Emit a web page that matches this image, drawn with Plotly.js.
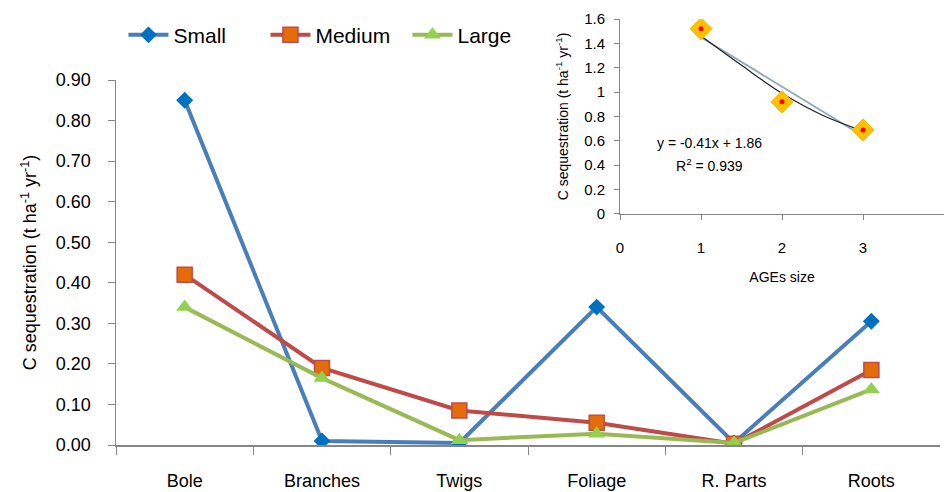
<!DOCTYPE html>
<html>
<head>
<meta charset="utf-8">
<script src="https://cdn.plot.ly/plotly-3.0.1.min.js"></script>
<style>html,body{margin:0;padding:0;background:#fff;}#chart{width:944px;height:492px;}</style>
</head>
<body>
<div id="chart"></div>
<script>
// Main chart data
const categories = ["Bole", "Branches", "Twigs", "Foliage", "R. Parts", "Roots"];
const smallVals  = [0.85, 0.010, 0.005, 0.340, 0.005, 0.305];
const mediumVals = [0.42, 0.190, 0.085, 0.055, 0.003, 0.185];
const largeVals  = [0.34, 0.165, 0.012, 0.028, 0.005, 0.137];

// Inset data
const ageSize = [1, 2, 3];
const ageTotals = [1.52, 0.92, 0.69];
const curveX = [1, 1.5, 2, 2.5, 3];
const curveY = [1.46, 1.22, 0.99, 0.81, 0.68];
const linX = [1, 3];
const linY = [1.45, 0.64];
const eqText = "y = -0.41x + 1.86";
const r2Text = "R<sup>2</sup> = 0.939";

const FONT = "Liberation Sans, Arial, sans-serif";
const axisGray = "#868686";

const traces = [
  {x: categories, y: smallVals, name: "Small", type: "scatter", mode: "lines+markers",
   line: {color: "#4A7EBB", width: 4}, marker: {symbol: "diamond", size: 13, color: "#0070C0"},
   xaxis: "x", yaxis: "y"},
  {x: categories, y: mediumVals, name: "Medium", type: "scatter", mode: "lines+markers",
   line: {color: "#BE4B48", width: 4}, marker: {symbol: "square", size: 15, color: "#E46C0A", line: {color: "#BE4B48", width: 1.5}},
   xaxis: "x", yaxis: "y"},
  {x: categories, y: largeVals, name: "Large", type: "scatter", mode: "lines+markers",
   line: {color: "#98B954", width: 4}, marker: {symbol: "triangle-up", size: 15, color: "#92D050"},
   xaxis: "x", yaxis: "y"},
  // inset
  {x: linX, y: linY, type: "scatter", mode: "lines", showlegend: false,
   line: {color: "#8EA9B8", width: 1.8}, xaxis: "x2", yaxis: "y2", hoverinfo: "skip"},
  {x: curveX, y: curveY, type: "scatter", mode: "lines", showlegend: false, line: {shape: "spline", color: "#222222", width: 1.2},
   xaxis: "x2", yaxis: "y2", hoverinfo: "skip"},
  {x: ageSize, y: ageTotals, type: "scatter", mode: "markers", showlegend: false,
   marker: {symbol: "diamond", size: 17, color: "#FFC000", line: {color: "#F5B800", width: 1}}, xaxis: "x2", yaxis: "y2"},
  {x: ageSize, y: ageTotals, type: "scatter", mode: "markers", showlegend: false,
   marker: {symbol: "circle", size: 5, color: "#FF0000"}, xaxis: "x2", yaxis: "y2"}
];

const layout = {
  width: 944, height: 492,
  margin: {l: 116, r: 0, t: 19, b: 47},
  paper_bgcolor: "#fff", plot_bgcolor: "rgba(0,0,0,0)",
  font: {family: FONT, color: "#000", size: 18},
  showlegend: true,
  legend: {orientation: "h", x: 0.009, xanchor: "left", y: 0.962, yanchor: "middle",
           font: {size: 21, family: FONT}, bgcolor: "rgba(0,0,0,0)", itemwidth: 40, tracegroupgap: 0,
           entrywidth: 87},
  xaxis: {domain: [0, 0.9952], type: "category", range: [-0.5, 5.5], showgrid: false, zeroline: false,
          showline: true, linecolor: axisGray, linewidth: 1.5, ticks: "outside", tickson: "boundaries",
          ticklen: 8, tickcolor: axisGray, ticklabelstandoff: 19, tickfont: {size: 18}},
  yaxis: {domain: [0, 0.8568], range: [0, 0.9], dtick: 0.1, tickformat: ".2f", showgrid: false, zeroline: false,
          showline: true, linecolor: axisGray, linewidth: 1.5, ticks: "outside", ticklen: 7, tickcolor: axisGray,
          ticklabelstandoff: 13, tickfont: {size: 18},
          title: {text: "C sequestration (t ha<sup>-1</sup> yr<sup>-1</sup>)", font: {size: 18}, standoff: 14}},
  xaxis2: {domain: [0.6087, 1.0], anchor: "y2", range: [0, 4], dtick: 1, showgrid: false, zeroline: false,
           showline: true, linecolor: axisGray, linewidth: 1, ticks: "outside", ticklen: 5, tickcolor: axisGray,
           ticklabelstandoff: 15, tickfont: {size: 15},
           title: {text: "AGEs size", font: {size: 14}, standoff: 17}},
  yaxis2: {domain: [0.5423, 1.0], anchor: "x2", range: [0, 1.6], dtick: 0.2, showgrid: false, zeroline: false,
           showline: true, linecolor: axisGray, linewidth: 1, ticks: "outside", ticklen: 5, tickcolor: axisGray,
           ticklabelstandoff: 6, tickfont: {size: 15},
           title: {text: "C sequestration (t ha<sup>-1</sup> yr<sup>-1</sup>)", font: {size: 14}, standoff: 12}},
  annotations: [
    {xref: "x2", yref: "y2", x: 1.1, y: 0.58, text: eqText, showarrow: false, font: {size: 14}},
    {xref: "x2", yref: "y2", x: 1.1, y: 0.40, text: r2Text, showarrow: false, font: {size: 14}}
  ]
};

Plotly.newPlot("chart", traces, layout, {displayModeBar: false, staticPlot: true});
</script>
</body>
</html>
